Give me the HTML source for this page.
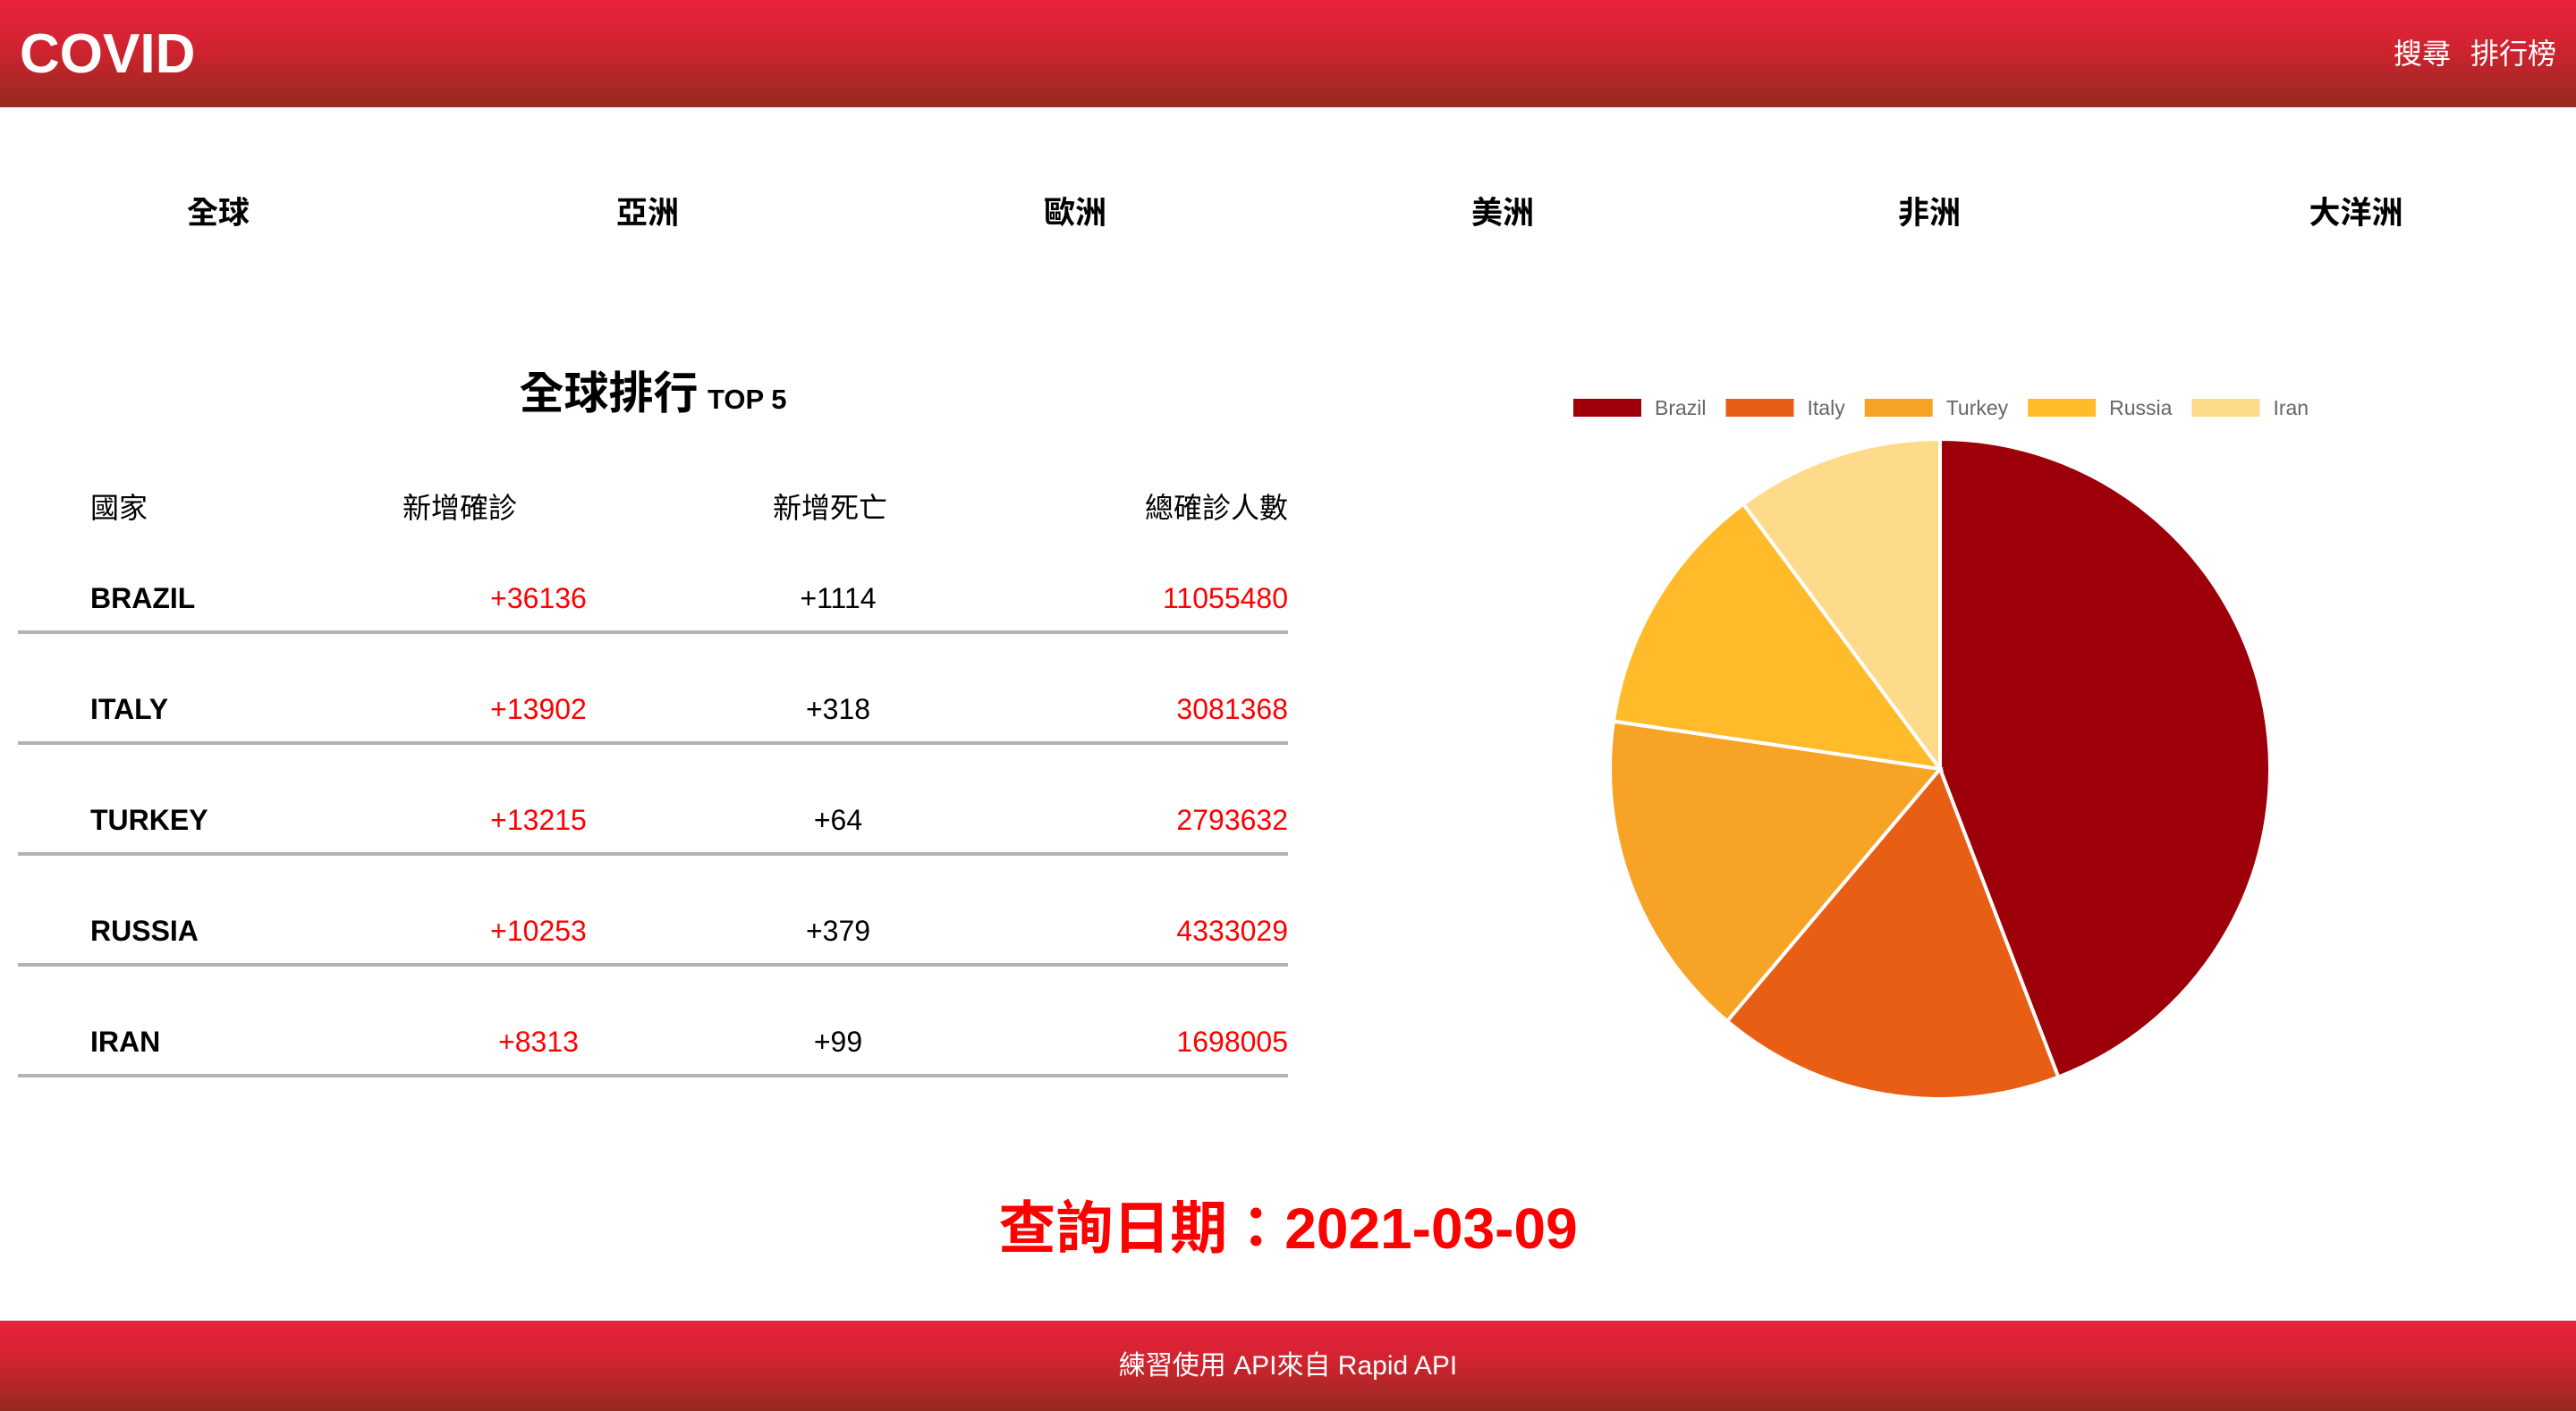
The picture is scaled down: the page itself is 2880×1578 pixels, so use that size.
<!DOCTYPE html>
<html><head><meta charset="utf-8">
<style>
*{margin:0;padding:0;box-sizing:border-box}
body{width:2880px;height:1578px;position:relative;background:#fff;font-family:"Liberation Sans","Noto Sans CJK TC",sans-serif;overflow:hidden}
.grad{background:linear-gradient(to bottom,#eb223e,#d0232f 45%,#952a1f)}
header{position:absolute;left:0;top:0;width:2880px;height:120px}
.logo{position:absolute;left:22px;top:26px;font-size:62px;font-weight:bold;color:#fff;line-height:70px}
.rnav{position:absolute;right:22px;top:40px;font-size:32px;color:#fff;line-height:40px}
.rnav span{margin-left:22px}
.nav{position:absolute;top:215px;font-size:35px;font-weight:bold;width:480px;text-align:center;line-height:48px}
.abs{position:absolute;white-space:nowrap;line-height:40px}
.line{position:absolute;left:20px;width:1420px;height:4px;background:#b3b3b3}
.red{color:#f00}
footer{position:absolute;left:0;top:1477px;width:2880px;height:101px;color:#fff;font-size:30px;text-align:center;line-height:101px}
</style></head><body>
<header class="grad">
<div class="logo">COVID</div>
<div class="rnav"><span>搜尋</span><span>排行榜</span></div>
</header>
<div class="nav" style="left:4px">全球</div>
<div class="nav" style="left:484px">亞洲</div>
<div class="nav" style="left:962px">歐洲</div>
<div class="nav" style="left:1440px">美洲</div>
<div class="nav" style="left:1917px">非洲</div>
<div class="nav" style="left:2394px">大洋洲</div>

<div class="abs" style="left:0;width:1460px;text-align:center;top:410px;line-height:60px"><span style="font-size:50px;font-weight:bold">全球排行</span> <span style="font-size:31px;font-weight:bold;margin-left:6px">TOP 5</span></div>

<div class="abs" style="left:101px;top:548px;font-size:32px">國家</div>
<div class="abs" style="left:414px;width:200px;text-align:center;top:548px;font-size:32px">新增確診</div>
<div class="abs" style="left:828px;width:200px;text-align:center;top:548px;font-size:32px">新增死亡</div>
<div class="abs" style="top:548px;font-size:32px;left:1240px;width:200px;text-align:right">總確診人數</div>
<div id="rows"></div>

<div class="abs red" style="left:0;width:2880px;text-align:center;top:1336px;font-size:64px;font-weight:bold;line-height:76px">查詢日期：2021-03-09</div>

<svg id="chart" style="position:absolute;left:1600px;top:400px" width="1200" height="860"></svg>

<footer class="grad">練習使用 API來自 Rapid API</footer>

<script>
const countries=["Brazil","Italy","Turkey","Russia","Iran"];
const newCases=[36136,13902,13215,10253,8313];
const newDeaths=[1114,318,64,379,99];
const totalCases=[11055480,3081368,2793632,4333029,1698005];
const colors=["#9e000a","#e85e14","#f7a325","#ffbb2a","#fedb8b"];

const rows=document.getElementById('rows');
countries.forEach((c,i)=>{
  const ty=649+i*124, ly=705+i*124;
  const mk=(html,style,name,cls)=>{const d=document.createElement('div');d.className='abs '+(cls||'');d.style.cssText=style+';top:'+ty+'px;font-size:32px';d.textContent=html;
    
    
    rows.appendChild(d);};
  mk(c.toUpperCase(),'left:101px;font-weight:bold;font-size:32px','row-country-'+c.toLowerCase());
  mk('+'+newCases[i],'left:502px;width:200px;text-align:center','row-new-cases-'+c.toLowerCase(),'red');
  mk('+'+newDeaths[i],'left:837px;width:200px;text-align:center','row-new-deaths-'+c.toLowerCase());
  mk(String(totalCases[i]),'left:1140px;width:300px;text-align:right','row-total-'+c.toLowerCase(),'red');
  const l=document.createElement('div');l.className='line';l.style.top=ly+'px';
  
  
  rows.appendChild(l);
});

const svg=document.getElementById('chart');
const NS='http://www.w3.org/2000/svg';
const cx=569,cy=460,r=369;
const total=newCases.reduce((a,b)=>a+b,0);
const ang=v=>v/total*Math.PI*2;
let a0=-Math.PI/2;
newCases.forEach((v,i)=>{
  const a1=a0+ang(v);
  const x0=cx+r*Math.cos(a0),y0=cy+r*Math.sin(a0),x1=cx+r*Math.cos(a1),y1=cy+r*Math.sin(a1);
  const p=document.createElementNS(NS,'path');
  p.setAttribute('d',`M${cx},${cy}L${x0},${y0}A${r},${r} 0 ${a1-a0>Math.PI?1:0} 1 ${x1},${y1}Z`);
  p.setAttribute('fill',colors[i]);p.setAttribute('stroke','#fff');p.setAttribute('stroke-width','4');
  
  
  svg.appendChild(p);
  a0=a1;
});
// legend
let lx=159;
countries.forEach((c,i)=>{
  const g=document.createElementNS(NS,'g');
  
  
  const rc=document.createElementNS(NS,'rect');
  rc.setAttribute('x',lx);rc.setAttribute('y',46);rc.setAttribute('width',76);rc.setAttribute('height',20);rc.setAttribute('fill',colors[i]);
  g.appendChild(rc);
  const t=document.createElementNS(NS,'text');
  t.setAttribute('x',lx+91);t.setAttribute('y',64);t.setAttribute('font-size','23');t.setAttribute('fill','#666');
  t.setAttribute('font-family','Liberation Sans, sans-serif');
  t.textContent=c;
  g.appendChild(t);
  svg.appendChild(g);
  lx+=91+t.getComputedTextLength()+22;
});
</script>
</body></html>
